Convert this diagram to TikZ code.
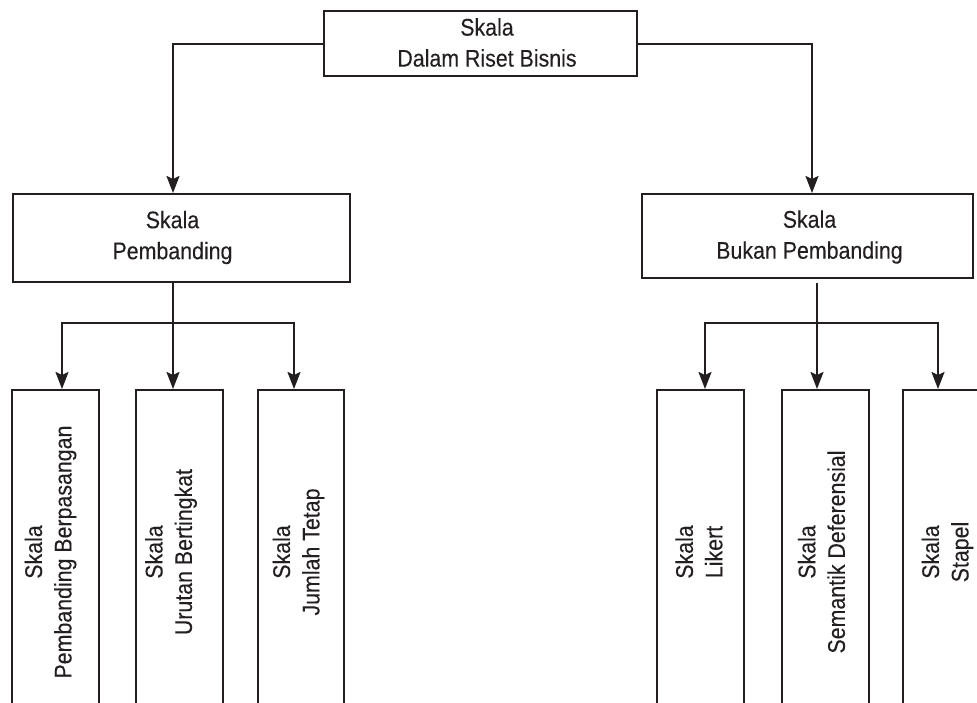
\documentclass[tikz,border=0pt]{standalone}
\usepackage{fontspec}
\setmainfont{Liberation Sans}[FakeStretch=0.89,FakeBold=0.12]
\usepackage{graphicx}
\usetikzlibrary{arrows.meta}
\definecolor{ink}{RGB}{35,31,32}
\begin{document}
\begin{tikzpicture}[x=1pt,y=-1pt,
  box/.style={draw=ink, line width=2pt, inner sep=0pt, rectangle},
  lbl/.style={text=ink, font=\fontsize{24}{31}\selectfont, align=center, inner sep=0pt},
  vlbl/.style={lbl, font=\fontsize{24}{29.5}\selectfont, rotate=90},
  conn/.style={draw=ink, line width=2pt},
  arr/.style={conn, -{Stealth[length=17pt,width=13pt,inset=3pt]}}]
\useasboundingbox (0,0) rectangle (977,702);
\clip (0,0) rectangle (977,702);
\fill[white] (0,0) rectangle (977,702);

% top
\node[box, minimum width=313pt, minimum height=65pt] (top) at (480.5,43.5) {};
\node[lbl] (topT) at (487,42.5) {Skala\\Dalam Riset Bisnis};

% middle
\node[box, minimum width=337pt, minimum height=88pt] (L) at (181.5,238) {};
\node[lbl] (LT) at (172.5,237.5) {Skala\\Pembanding};
\node[box, minimum width=331pt, minimum height=84pt] (R) at (807.5,236) {};
\node[lbl] (RT) at (809.5,237) {Skala\\Bukan Pembanding};

% bottom boxes
\node[box, minimum width=87pt, minimum height=324pt] (B1) at (55.5,552) {};
\node[box, minimum width=87pt, minimum height=324pt] (B2) at (179.5,552) {};
\node[box, minimum width=86pt, minimum height=324pt] (B3) at (301,552) {};
\node[box, minimum width=87pt, minimum height=324pt] (B4) at (700.5,552) {};
\node[box, minimum width=87pt, minimum height=324pt] (B5) at (825.5,552) {};
\node[box, minimum width=87pt, minimum height=324pt] (B6) at (946.5,552) {};

\node[vlbl] (T1) at (50.5,552) {Skala\\Pembanding Berpasangan};
\node[vlbl] (T2) at (171,552) {Skala\\Urutan Bertingkat};
\node[vlbl] (T3) at (298.5,552) {Skala\\Jumlah Tetap};
\node[vlbl] (T4) at (699,552) {Skala\\Likert};
\node[vlbl] (T5) at (821.5,552) {Skala\\Semantik Deferensial};
\node[vlbl] (T6) at (947.5,552) {Skala\\Stapel};

% connectors from top
\coordinate (lc) at (173,0);
\coordinate (rc) at (812,0);
\draw[arr] (top.west) -| (lc |- L.north);
\draw[arr] (top.east) -| (rc |- R.north);

% left branch
\coordinate (lj) at (173,323);
\coordinate (la) at (62,323);
\coordinate (lb) at (294,323);
\draw[conn] (lc |- L.south) -- (lj);
\draw[arr] (lj) -| (la |- B1.north);
\draw[arr] (lj) -- (lj |- B2.north);
\draw[arr] (lj) -| (lb |- B3.north);

% right branch
\coordinate (rj) at (817,323);
\coordinate (ra) at (705,323);
\coordinate (rb) at (938,323);
\draw[conn] ([yshift=-4pt]rj |- R.south) -- (rj);
\draw[arr] (rj) -| (ra |- B4.north);
\draw[arr] (rj) -- (rj |- B5.north);
\draw[arr] (rj) -| (rb |- B6.north);
\end{tikzpicture}
\end{document}
